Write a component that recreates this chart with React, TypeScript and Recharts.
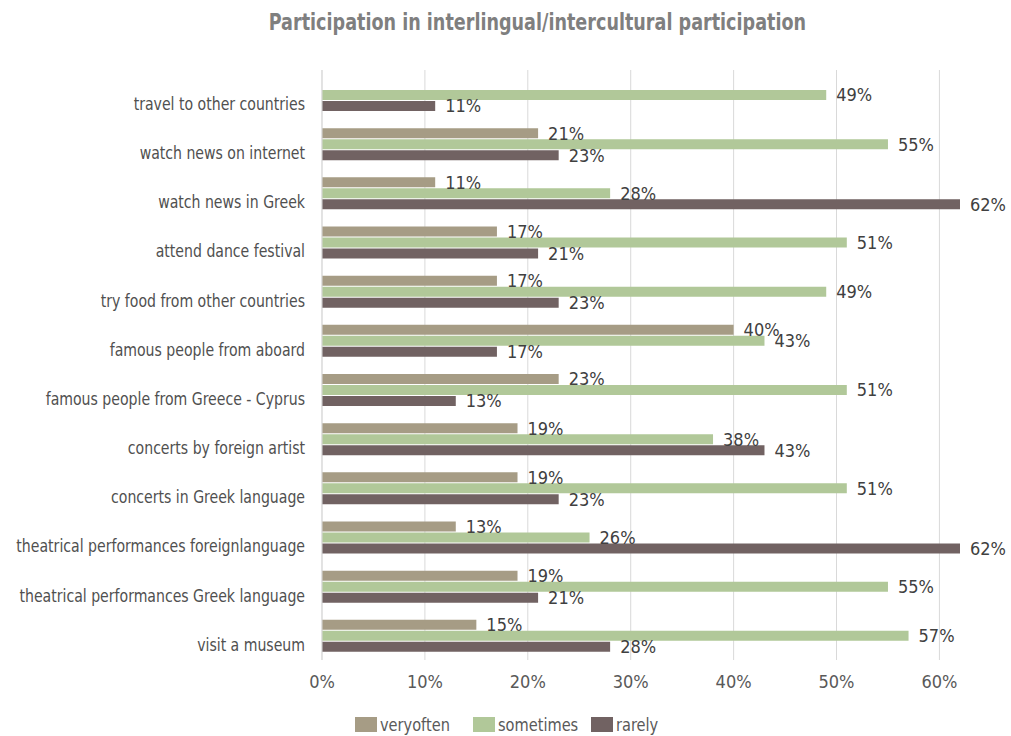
import { Bar, BarChart, CartesianGrid, LabelList, Legend, XAxis, YAxis } from "recharts"

const categories = [
  "travel to other countries",
  "watch news on internet",
  "watch news in Greek",
  "attend dance festival",
  "try food from other countries",
  "famous people from aboard",
  "famous people from Greece - Cyprus",
  "concerts by foreign artist",
  "concerts in Greek language",
  "theatrical performances foreignlanguage",
  "theatrical performances Greek language",
  "visit a museum",
]

const veryoften = [null, 21, 11, 17, 17, 40, 23, 19, 19, 13, 19, 15]
const sometimes = [49, 55, 28, 51, 49, 43, 51, 38, 51, 26, 55, 57]
const rarely = [11, 23, 62, 21, 23, 17, 13, 43, 23, 62, 21, 28]

const xTicks = [0, 10, 20, 30, 40, 50, 60]

const data = categories.map((name, i) => ({
  name,
  veryoften: veryoften[i],
  sometimes: sometimes[i],
  rarely: rarely[i],
}))

const FONT = "'DejaVu Sans Condensed', 'DejaVu Sans', sans-serif"

const SERIES = [
  { key: "veryoften", color: "#a69c85" },
  { key: "sometimes", color: "#b1c899" },
  { key: "rarely", color: "#716262" },
]

const pct = (v: any) => (v == null ? "" : `${v}%`)

// condensed look: squeeze the category text a bit horizontally
function CategoryTick({ x, y, payload }: any) {
  return (
    <text
      x={0}
      y={0}
      transform={`translate(${x},${y + 9}) scale(0.87,1)`}
      textAnchor="end"
      dy="0.35em"
      fill="#505050"
      fontSize={18}
      fontFamily={FONT}
    >
      {payload.value}
    </text>
  )
}

function LegendBox() {
  return (
    <div style={{ display: "flex", fontFamily: FONT, fontSize: 18, color: "#595959" }}>
      {SERIES.map((s) => (
        <div key={s.key} style={{ display: "flex", alignItems: "center", width: 118 }}>
          <span style={{ display: "inline-block", width: 22, height: 15, background: s.color, marginRight: 3 }} />
          <span style={{ display: "inline-block", transform: "scaleX(0.9)", transformOrigin: "left" }}>{s.key}</span>
        </div>
      ))}
    </div>
  )
}

export default function App() {
  return (
    <div style={{ position: "absolute", left: 0, top: 0, width: 1011, height: 736, background: "#fff" }}>
      <div
        style={{
          position: "absolute",
          top: 9,
          left: 0,
          width: 1075,
          textAlign: "center",
          fontFamily: FONT,
          fontWeight: "bold",
          fontSize: 23,
          color: "#7f7f7f",
          transform: "scaleX(0.85)",
          transformOrigin: "537px 0",
        }}
      >
        Participation in interlingual/intercultural participation
      </div>
      <BarChart
        width={1011}
        height={736}
        data={data}
        layout="vertical"
        margin={{ top: 70, right: 51, bottom: 17, left: 0 }}
        barSize={10}
        barGap={1}
        style={{ fontFamily: FONT }}
      >
        <CartesianGrid horizontal={false} stroke="#d9d9d9" verticalValues={xTicks} />
        <XAxis
          type="number"
          domain={[0, 62]}
          ticks={xTicks}
          tickFormatter={(v) => `${v}%`}
          axisLine={false}
          tickLine={false}
          tick={{ fill: "#595959", fontSize: 18 }}
          tickMargin={9}
          height={38}
        />
        <YAxis
          type="category"
          dataKey="name"
          width={322}
          axisLine={{ stroke: "#d9d9d9" }}
          tickLine={false}
          tickMargin={11}
          interval={0}
          tick={<CategoryTick />}
        />
        <Legend
          verticalAlign="bottom"
          content={() => <LegendBox />}
          wrapperStyle={{ left: 355, width: 430, bottom: 1 }}
        />
        {SERIES.map((s) => (
          <Bar key={s.key} dataKey={s.key} fill={s.color} isAnimationActive={false}>
            <LabelList
              dataKey={s.key}
              position="right"
              offset={10}
              formatter={pct}
              style={{ fill: "#404040", fontSize: 18 }}
            />
          </Bar>
        ))}
      </BarChart>
    </div>
  )
}
